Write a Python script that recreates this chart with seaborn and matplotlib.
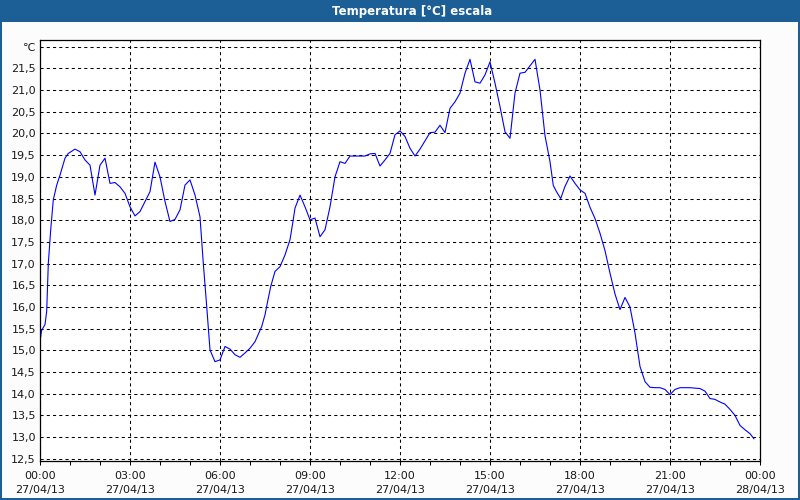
import numpy as np
import pandas as pd
import matplotlib
matplotlib.use("Agg")
import matplotlib.pyplot as plt
import seaborn as sns
from matplotlib.patches import Rectangle

# ---- data (hours since 27/04/13 00:00, temperature in °C) ----
hours = [0.0, 0.05, 0.167, 0.223, 0.277, 0.357, 0.443, 0.557, 0.667, 0.833, 0.943,
         1.167, 1.333, 1.5, 1.667, 1.833, 2.0, 2.167, 2.333, 2.5, 2.667, 2.833,
         3.0, 3.167, 3.333, 3.5, 3.667, 3.833, 4.0, 4.167, 4.333, 4.5, 4.667, 4.833,
         5.0, 5.167, 5.333, 5.443, 5.557, 5.667, 5.833, 6.0, 6.167, 6.333, 6.5,
         6.667, 6.833, 7.0, 7.167, 7.39, 7.5, 7.577, 7.69, 7.833, 8.0, 8.167,
         8.333, 8.423, 8.5, 8.667, 8.833, 9.0, 9.167, 9.333, 9.5, 9.667, 9.833,
         10.0, 10.167, 10.333, 10.833, 11.0, 11.167, 11.333, 11.5, 11.667, 11.833,
         12.0, 12.167, 12.333, 12.5, 12.667, 12.833, 13.0, 13.167, 13.333, 13.5,
         13.667, 13.833, 14.0, 14.167, 14.333, 14.5, 14.667, 14.833, 15.0, 15.167,
         15.333, 15.5, 15.667, 15.833, 16.0, 16.167, 16.333, 16.5, 16.667, 16.833,
         17.0, 17.11, 17.223, 17.357, 17.5, 17.667, 17.833, 18.0, 18.167, 18.333,
         18.5, 18.667, 18.833, 19.0, 19.167, 19.333, 19.5, 19.667, 19.833, 20.0,
         20.167, 20.333, 20.5, 20.667, 20.833, 21.0, 21.167, 21.333, 21.667, 22.0,
         22.167, 22.333, 22.5, 22.667, 22.833, 23.0, 23.167, 23.333, 23.5, 23.667,
         23.8]
temps = [15.2, 15.45, 15.6, 15.9, 17.0, 17.78, 18.47, 18.81, 19.04, 19.43, 19.54,
         19.64, 19.58, 19.39, 19.27, 18.58, 19.27, 19.43, 18.85, 18.87, 18.77, 18.62,
         18.31, 18.10, 18.20, 18.43, 18.66, 19.34, 19.0, 18.43, 17.97, 18.02, 18.24, 18.81,
         18.93, 18.58, 18.08, 17.01, 16.01, 15.01, 14.74, 14.78, 15.09, 15.03, 14.90,
         14.84, 14.94, 15.05, 15.2, 15.55, 15.82, 16.09, 16.47, 16.82, 16.93, 17.2,
         17.55, 17.93, 18.28, 18.58, 18.31, 18.01, 18.05, 17.62, 17.78, 18.31, 19.0,
         19.35, 19.31, 19.48, 19.48, 19.53, 19.54, 19.25, 19.39, 19.54, 19.97,
         20.06, 19.93, 19.66, 19.48, 19.64, 19.83, 20.02, 20.03, 20.19, 20.02,
         20.58, 20.73, 20.93, 21.39, 21.71, 21.19, 21.16, 21.35, 21.65, 21.16,
         20.62, 20.04, 19.89, 20.93, 21.39, 21.41, 21.56, 21.71, 21.0, 19.95,
         19.35, 18.8, 18.65, 18.5, 18.78, 19.02, 18.85, 18.7, 18.62, 18.3,
         18.04, 17.7, 17.3, 16.78, 16.3, 15.94, 16.22, 16.0, 15.4, 14.63,
         14.28, 14.15, 14.14, 14.14, 14.1, 13.98, 14.1, 14.14, 14.14, 14.12,
         14.06, 13.89, 13.87, 13.81, 13.76, 13.64, 13.5, 13.27, 13.17, 13.08,
         12.96]

tick_hours = [0, 3, 6, 9, 12, 15, 18, 21, 24]
tick_labels = ["00:00\n27/04/13", "03:00\n27/04/13", "06:00\n27/04/13",
               "09:00\n27/04/13", "12:00\n27/04/13", "15:00\n27/04/13",
               "18:00\n27/04/13", "21:00\n27/04/13", "00:00\n28/04/13"]
ytick_vals = [12.5, 13.0, 13.5, 14.0, 14.5, 15.0, 15.5, 16.0, 16.5, 17.0, 17.5,
              18.0, 18.5, 19.0, 19.5, 20.0, 20.5, 21.0, 21.5, 22.0]
ytick_labels = ["12,5", "13,0", "13,5", "14,0", "14,5", "15,0", "15,5", "16,0",
                "16,5", "17,0", "17,5", "18,0", "18,5", "19,0", "19,5", "20,0",
                "20,5", "21,0", "21,5", "\u2103"]
title = "Temperatura [°C] escala"

sns.set_theme(style="white")
plt.rcParams['font.family'] = ['DejaVu Sans']

fig = plt.figure(figsize=(8, 5), dpi=100, facecolor="#fbfcfb")
ax = fig.add_axes([40 / 800, 1 - 461 / 500, 720 / 800, 421 / 500])
ax.set_facecolor("white")

df = pd.DataFrame({"h": hours, "t": temps})
sns.lineplot(data=df, x="h", y="t", ax=ax, color="#0000ff", linewidth=0.8)

ax.set_xlim(0, 24)
ax.set_ylim(12.45, 22.155)
ax.set_xticks(tick_hours)
ax.set_xticklabels(tick_labels)
ax.set_xticks(range(25), minor=True)
ax.set_yticks(ytick_vals)
ax.set_yticklabels(ytick_labels)
ax.set_xlabel("")
ax.set_ylabel("")

ax.grid(True, which="major", color="black", linestyle=(0, (3, 3)), linewidth=0.75)
ax.tick_params(axis="x", which="both", direction="out", length=3, width=0.75,
               color="black", bottom=True, labelsize=8, pad=4, labelcolor="#1a1a1a")
ax.tick_params(axis="y", which="both", length=0, labelsize=8, pad=3, labelcolor="#1a1a1a")
for lbl in ax.get_xticklabels():
    lbl.set_linespacing(1.5)
for sp in ax.spines.values():
    sp.set_visible(True)
    sp.set_color("black")
    sp.set_linewidth(0.9)

# window frame
blue = "#1c5f97"
fig.patches.append(Rectangle((0, 1 - 22 / 500), 1, 22 / 500, transform=fig.transFigure,
                             facecolor=blue, edgecolor="none", zorder=0))
fig.patches.append(Rectangle((0, 0), 1.5 / 800, 1, transform=fig.transFigure,
                             facecolor=blue, edgecolor="none", zorder=0))
fig.patches.append(Rectangle((1 - 2 / 800, 0), 2 / 800, 1, transform=fig.transFigure,
                             facecolor=blue, edgecolor="none", zorder=0))
fig.patches.append(Rectangle((0, 0), 1, 2 / 500, transform=fig.transFigure,
                             facecolor=blue, edgecolor="none", zorder=0))
fig.text(412 / 800, 1 - 11 / 500, title, color="white", fontweight="bold",
         fontsize=8.5, ha="center", va="center")

fig.savefig("out.png", dpi=100, facecolor=fig.get_facecolor())
